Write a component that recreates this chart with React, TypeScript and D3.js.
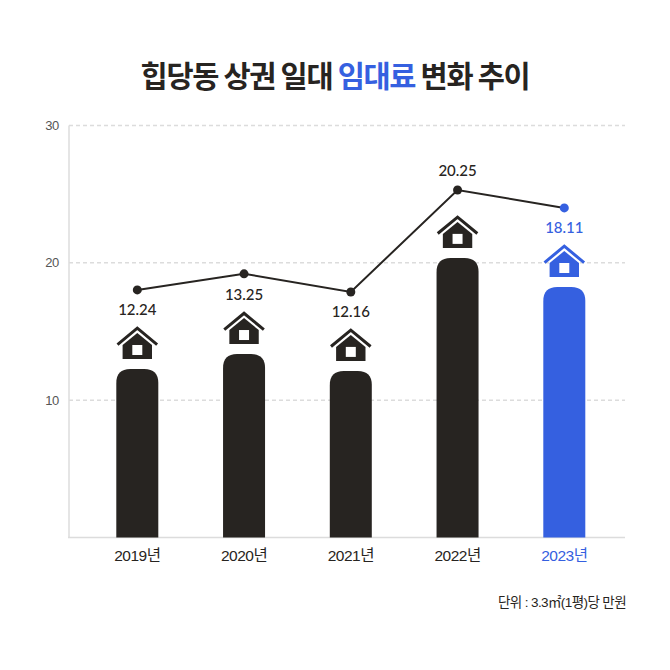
import React from "react";
import * as d3 from "d3";

const categories = ["2019년", "2020년", "2021년", "2022년", "2023년"];
const barValues = [12.27, 13.36, 12.13, 20.36, 18.24];
const lineValues = [18.03, 19.2, 17.88, 25.3, 24.0];
const valueLabels = ["12.24", "13.25", "12.16", "20.25", "18.11"];
const labelOffsets = [20, 21, 20, -20, 20];
const yTicks = [10, 20, 30];

const DARK = "#272421";
const BLUE = "#3560e0";
const GRID = "#dcdcdc";
const KR = "'Noto Sans CJK KR', 'Noto Sans', sans-serif";
const MIXED = "'Liberation Sans', 'Noto Sans CJK KR', sans-serif";

const x = d3.scalePoint<string>().domain(categories).range([137.3, 564.3]);
const y = d3.scaleLinear().domain([0, 30]).range([537.5, 125.5]);
const line = d3
  .line<number>()
  .x((_, i) => x(categories[i]) as number)
  .y((d) => y(d));

const BAR_W = 42;
const R = 14;

function barPath(cx: number, top: number, bottom: number) {
  const l = cx - BAR_W / 2;
  const r = cx + BAR_W / 2;
  return `M${l},${bottom}V${top + R}Q${l},${top} ${l + R},${top}H${r - R}Q${r},${top} ${r},${top + R}V${bottom}Z`;
}

function House({ cx, top, color }: { cx: number; top: number; color: string }) {
  return (
    <g transform={`translate(${cx},${top})`}>
      <path d="M-19.8,18.6L0,2.2L19.8,18.6" fill="none" stroke={color} strokeWidth={3} />
      <path d="M0,7L-14.7,19V33H14.7V19Z" fill={color} />
      <rect x={-5} y={19} width={10} height={10} fill="#fff" />
    </g>
  );
}

export default function App() {
  return (
    <svg
      width={670}
      height={670}
      viewBox="0 0 670 670"
      style={{ position: "absolute", left: 0, top: 0, background: "#fff" }}
    >
      <text x={335} y={87} textAnchor="middle" fontFamily={KR} fontWeight={700} fontSize={29.5} letterSpacing={-1.3} fill={DARK}>
        힙당동 상권 일대 <tspan fill={BLUE}>임대료</tspan> 변화 추이
      </text>

      {yTicks.map((t) => (
        <g key={t}>
          <line x1={69} x2={625} y1={y(t)} y2={y(t)} stroke={GRID} strokeWidth={1.5} strokeDasharray="4 3" />
          <text x={59} y={y(t) + 4.5} textAnchor="end" fontFamily={MIXED} fontSize={13} letterSpacing={-0.3} fill="#555">
            {t}
          </text>
        </g>
      ))}
      <line x1={69} x2={69} y1={y(30)} y2={y(0)} stroke={GRID} strokeWidth={1.5} />
      <line x1={68} x2={625} y1={y(0)} y2={y(0)} stroke={GRID} strokeWidth={1.5} />

      {categories.map((c, i) => {
        const cx = x(c) as number;
        const color = i === categories.length - 1 ? BLUE : DARK;
        const top = y(barValues[i]);
        return (
          <g key={c}>
            <path d={barPath(cx, top, y(0))} fill={color} />
            <House cx={cx} top={top - 43} color={color} />
            <text x={cx} y={560.5} textAnchor="middle" fontFamily={MIXED} fontSize={15.5} letterSpacing={-0.5} fill={color}>
              {c}
            </text>
          </g>
        );
      })}

      <path d={line(lineValues) as string} fill="none" stroke={DARK} strokeWidth={2} />
      {categories.map((c, i) => {
        const cx = x(c) as number;
        const color = i === categories.length - 1 ? BLUE : DARK;
        const cy = y(lineValues[i]);
        return (
          <g key={c}>
            <circle cx={cx} cy={cy} r={4.5} fill={color} />
            <text
              x={cx}
              y={cy + labelOffsets[i] + 5.5}
              textAnchor="middle"
              fontFamily="Lato, sans-serif"
              fontWeight={500}
              fontSize={15}
              fill={color}
            >
              {valueLabels[i]}
            </text>
          </g>
        );
      })}

      <text x={626} y={607} textAnchor="end" fontFamily={MIXED} fontSize={13.5} letterSpacing={-0.6} fill={DARK}>
        단위 : 3.3㎡(1평)당 만원
      </text>
    </svg>
  );
}
